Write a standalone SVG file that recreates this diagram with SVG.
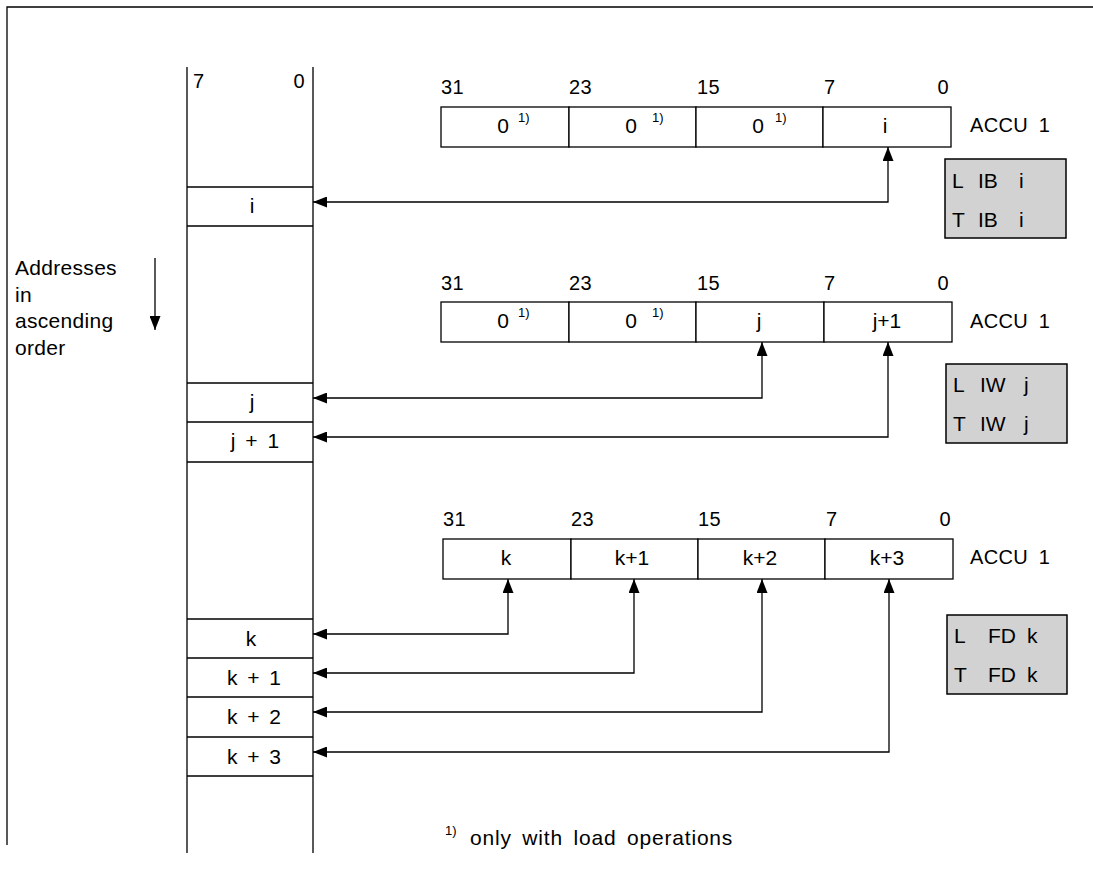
<svg xmlns="http://www.w3.org/2000/svg" width="1093" height="873" viewBox="0 0 1093 873">
<style>
.t{font-family:"Liberation Sans",Arial,sans-serif;font-size:21px;fill:#000}
.b{font-size:20px;letter-spacing:0.3px}
.c{text-anchor:middle}
.e{text-anchor:end}
.sup{font-size:13px}
.ln{stroke:#000;stroke-width:1.3;fill:none}
.box{fill:#fff;stroke:#000;stroke-width:1.3}
.gray{fill:#d2d2d2;stroke:#000;stroke-width:1.5}
.con{stroke:#000;stroke-width:1.3;fill:none;marker-start:url(#ah);marker-end:url(#ah)}
</style>
<defs>
<marker id="ah" markerUnits="userSpaceOnUse" markerWidth="14" markerHeight="11" refX="14" refY="5.5" orient="auto-start-reverse" viewBox="0 0 14 11">
<path d="M0,0 L14,5.5 L0,11 z" fill="#000"/>
</marker>
<marker id="ad" markerUnits="userSpaceOnUse" markerWidth="14" markerHeight="11" refX="14" refY="5.5" orient="auto" viewBox="0 0 14 11">
<path d="M0,0 L14,5.5 L0,11 z" fill="#000"/>
</marker>
</defs>
<rect width="1093" height="873" fill="#fff"/>
<g id="frame">
<path class="ln" d="M7,845 V7 H1093"/>
</g>
<g id="addresses">
<text class="t" style="letter-spacing:0.3px" x="15" y="275">Addresses</text>
<text class="t" style="letter-spacing:0.3px" x="15" y="302">in</text>
<text class="t" style="letter-spacing:0.3px" x="15" y="328">ascending</text>
<text class="t" style="letter-spacing:0.3px" x="15" y="355">order</text>
<path class="ln" d="M155,258 V330" marker-end="url(#ad)"/>
</g>
<g id="memory">
<path class="ln" d="M187,67 V853 M313,67 V853"/>
<text class="t b" x="193" y="88">7</text>
<text class="t b e" x="305" y="88">0</text>
<path class="ln" d="M187,187 H313 M187,226 H313 M187,383 H313 M187,422 H313 M187,462 H313 M187,619 H313 M187,658 H313 M187,697 H313 M187,737 H313 M187,776 H313"/>
<text class="t c" x="252" y="213">i</text>
<text class="t c" x="252" y="409">j</text>
<text class="t c" x="255" y="448" style="word-spacing:4px">j + 1</text>
<text class="t c" x="251" y="646">k</text>
<text class="t c" x="254" y="685" style="word-spacing:4px">k + 1</text>
<text class="t c" x="254" y="724" style="word-spacing:4px">k + 2</text>
<text class="t c" x="254" y="764" style="word-spacing:4px">k + 3</text>
</g>
<g id="accu-byte">
<text class="t b" x="441" y="94">31</text>
<text class="t b" x="569" y="94">23</text>
<text class="t b" x="697" y="94">15</text>
<text class="t b" x="824" y="94">7</text>
<text class="t b e" x="949" y="94">0</text>
<rect class="box" x="441" y="107" width="128" height="40"/>
<rect class="box" x="569" y="107" width="127" height="40"/>
<rect class="box" x="696" y="107" width="127" height="40"/>
<rect class="box" x="823" y="107" width="128" height="40"/>
<text class="t c" x="503" y="133">0</text><text class="t sup" x="518" y="122">1)</text>
<text class="t c" x="631" y="133">0</text><text class="t sup" x="652" y="122">1)</text>
<text class="t c" x="758" y="133">0</text><text class="t sup" x="775" y="122">1)</text>
<text class="t c" x="885" y="133">i</text>
<text class="t b" x="970" y="132" style="word-spacing:5px">ACCU 1</text>
</g>
<g id="op-byte">
<rect class="gray" x="945" y="159" width="121" height="79"/>
<text class="t" x="952" y="188">L</text><text class="t" x="978" y="188">IB</text><text class="t" x="1019" y="188">i</text>
<text class="t" x="952" y="227">T</text><text class="t" x="978" y="227">IB</text><text class="t" x="1019" y="227">i</text>
</g>
<g id="accu-word">
<text class="t b" x="441" y="290">31</text>
<text class="t b" x="569" y="290">23</text>
<text class="t b" x="697" y="290">15</text>
<text class="t b" x="824" y="290">7</text>
<text class="t b e" x="949" y="290">0</text>
<rect class="box" x="441" y="302" width="128" height="40"/>
<rect class="box" x="569" y="302" width="127" height="40"/>
<rect class="box" x="696" y="302" width="128" height="40"/>
<rect class="box" x="824" y="302" width="128" height="40"/>
<text class="t c" x="503" y="328">0</text><text class="t sup" x="518" y="317">1)</text>
<text class="t c" x="631" y="328">0</text><text class="t sup" x="652" y="317">1)</text>
<text class="t c" x="759" y="328">j</text>
<text class="t c" x="887" y="328">j+1</text>
<text class="t b" x="970" y="328" style="word-spacing:5px">ACCU 1</text>
</g>
<g id="op-word">
<rect class="gray" x="946" y="364" width="121" height="79"/>
<text class="t" x="953" y="392">L</text><text class="t" x="980" y="392">IW</text><text class="t" x="1024" y="392">j</text>
<text class="t" x="953" y="431">T</text><text class="t" x="980" y="431">IW</text><text class="t" x="1024" y="431">j</text>
</g>
<g id="accu-dword">
<text class="t b" x="443" y="526">31</text>
<text class="t b" x="571" y="526">23</text>
<text class="t b" x="698" y="526">15</text>
<text class="t b" x="826" y="526">7</text>
<text class="t b e" x="951" y="526">0</text>
<rect class="box" x="443" y="539" width="128" height="40"/>
<rect class="box" x="571" y="539" width="127" height="40"/>
<rect class="box" x="698" y="539" width="127" height="40"/>
<rect class="box" x="825" y="539" width="128" height="40"/>
<text class="t c" x="506" y="565">k</text>
<text class="t c" x="632" y="565">k+1</text>
<text class="t c" x="760" y="565">k+2</text>
<text class="t c" x="887" y="565">k+3</text>
<text class="t b" x="970" y="564" style="word-spacing:5px">ACCU 1</text>
</g>
<g id="op-dword">
<rect class="gray" x="947" y="615" width="120" height="79"/>
<text class="t" x="954" y="643">L</text><text class="t" x="988" y="643">FD</text><text class="t" x="1027" y="643">k</text>
<text class="t" x="954" y="682">T</text><text class="t" x="988" y="682">FD</text><text class="t" x="1027" y="682">k</text>
</g>
<g id="connectors">
<path class="con" d="M313,202 H888 V147"/>
<path class="con" d="M313,398 H762 V342"/>
<path class="con" d="M313,437 H888 V342"/>
<path class="con" d="M313,634 H508 V579"/>
<path class="con" d="M313,673 H634 V579"/>
<path class="con" d="M313,712 H762 V579"/>
<path class="con" d="M313,752 H889 V579"/>
</g>
<g id="footnote">
<text class="t sup" x="445" y="835">1)</text>
<text class="t" x="470" y="845" style="letter-spacing:0.8px;word-spacing:4px">only with load operations</text>
</g>
</svg>
